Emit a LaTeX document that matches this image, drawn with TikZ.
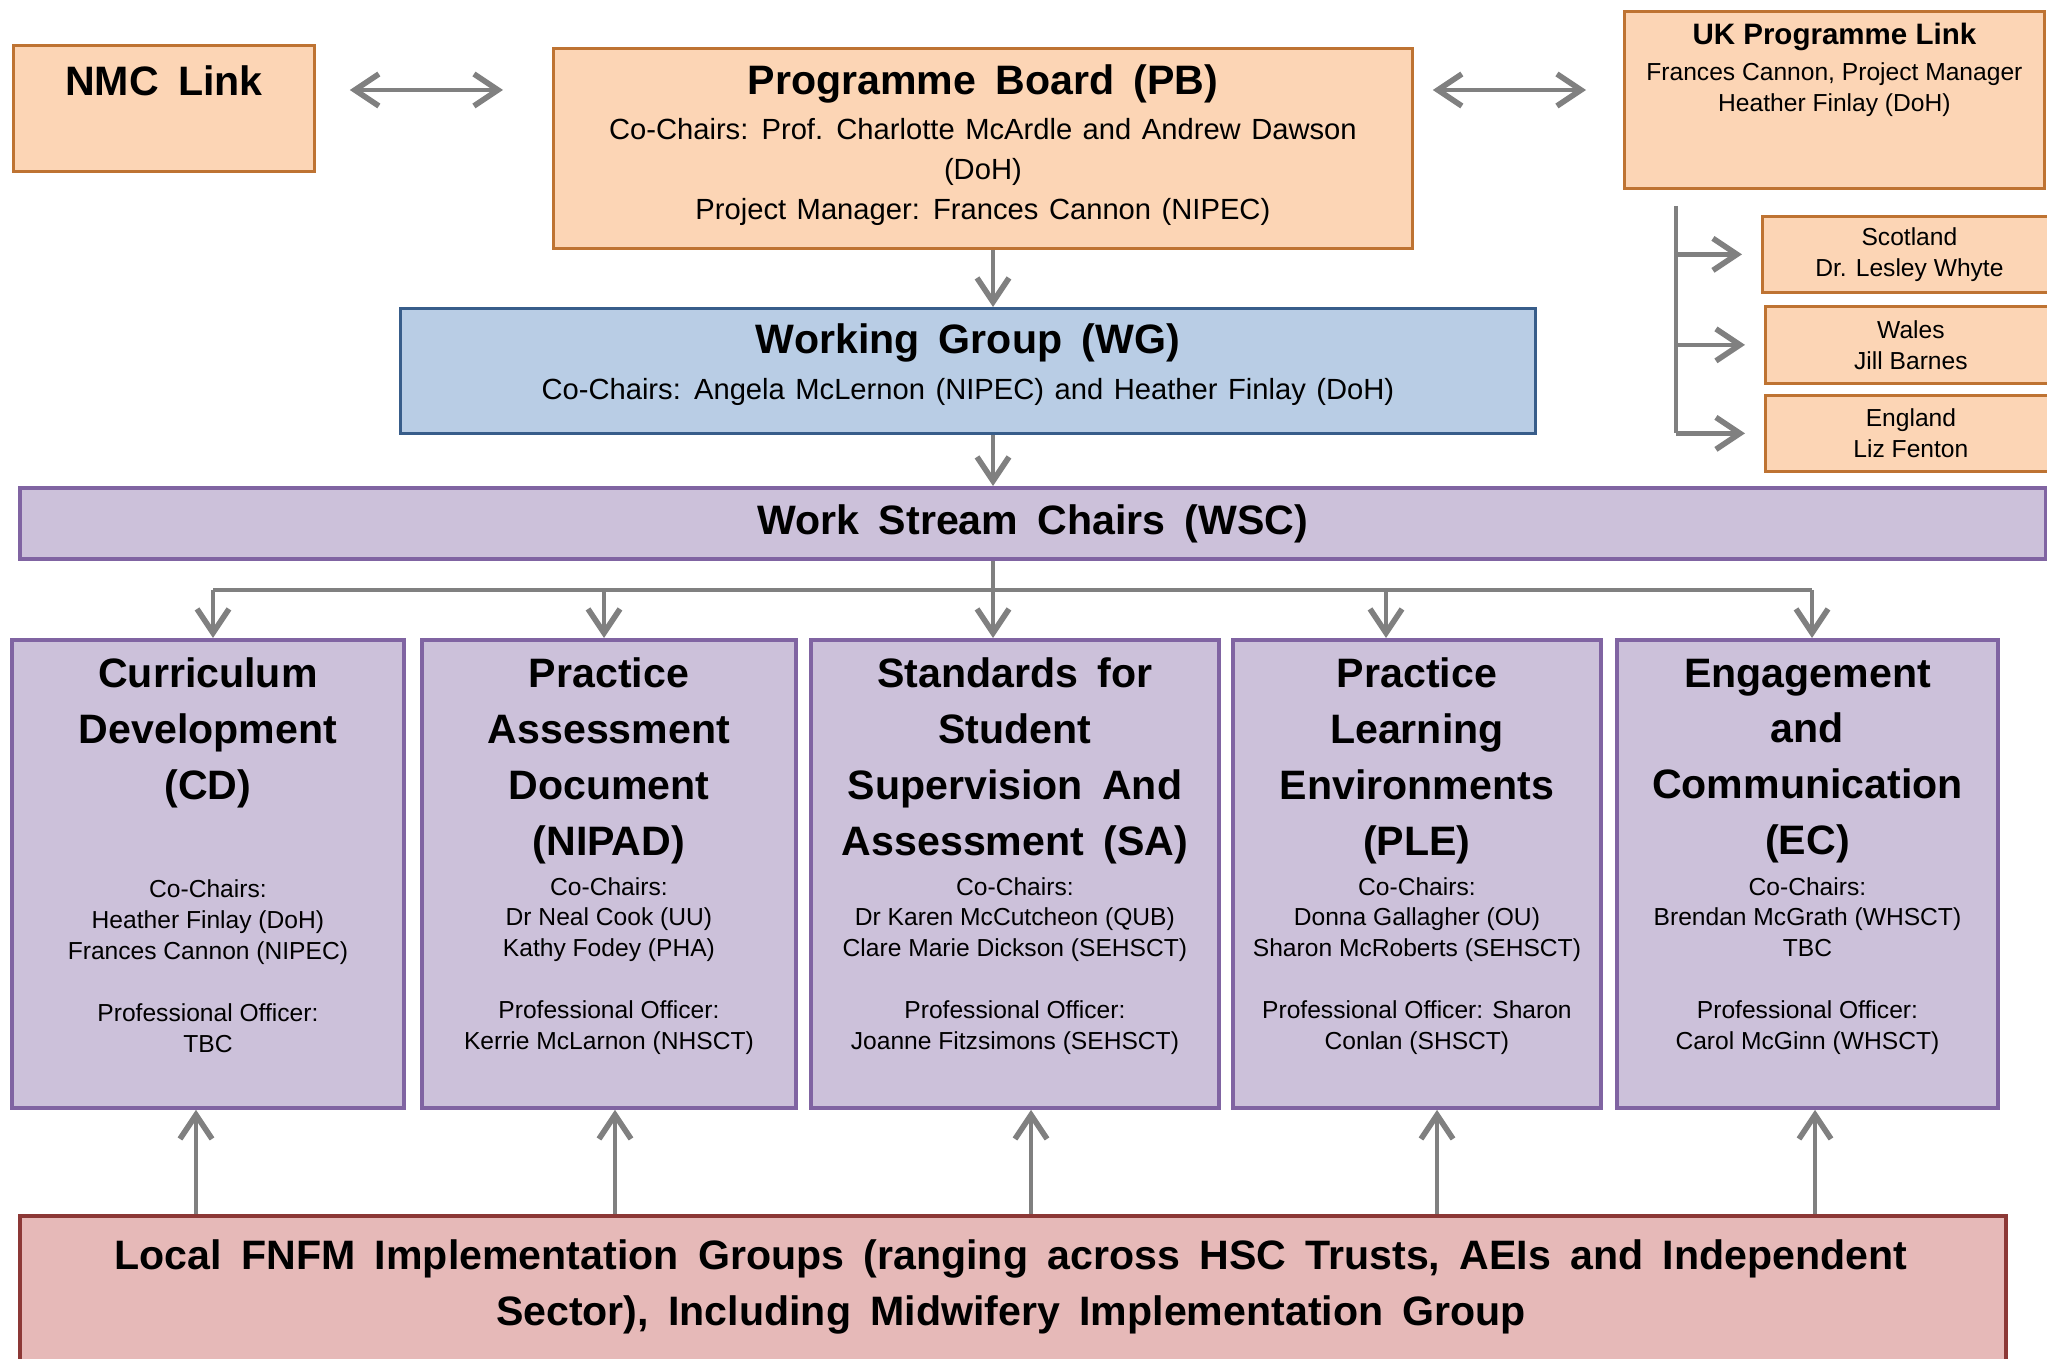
\documentclass[tikz,border=0pt]{standalone}
\usepackage{fontspec}
\setmainfont{Liberation Sans}
\usetikzlibrary{arrows.meta}

\definecolor{pbfill}{RGB}{252,213,181}
\definecolor{pbline}{RGB}{190,115,50}
\definecolor{wgfill}{RGB}{185,205,229}
\definecolor{wgline}{RGB}{56,93,138}
\definecolor{wsfill}{RGB}{204,193,218}
\definecolor{wsline}{RGB}{128,100,162}
\definecolor{lofill}{RGB}{230,185,184}
\definecolor{loline}{RGB}{140,56,54}
\definecolor{arrowgray}{RGB}{128,128,128}

\tikzset{
  linkbox/.style={draw=pbline, fill=pbfill, line width=0.8pt, inner sep=0pt, anchor=north west},
  groupbox/.style={draw=wgline, fill=wgfill, line width=0.8pt, inner sep=0pt, anchor=north west},
  streambox/.style={draw=wsline, fill=wsfill, line width=1.1pt, inner sep=0pt, anchor=north west},
  localbox/.style={draw=loline, fill=lofill, line width=1.1pt, inner sep=0pt, anchor=north west},
  big/.style={font={\bfseries\fontsize{11.7}{15.9}\selectfont\spaceskip=0.47em\relax}, align=center, inner sep=0pt},
  mid/.style={font={\fontsize{8.3}{11.4}\selectfont\spaceskip=0.36em\relax}, align=center, inner sep=0pt},
  small/.style={font=\fontsize{7}{8.8}\selectfont, align=center, inner sep=0pt},
  link/.style={draw=arrowgray, line width=1.3pt},
  rise/.style={draw=arrowgray, line width=1pt}
}

\begin{document}
\begin{tikzpicture}[x=0.1mm, y=-0.1mm, >={Straight Barb[length=2.4mm,width=3.2mm,line width=1.6pt]}]
  \useasboundingbox (0,0) rectangle (2047,1359);

  % top row
  \node[linkbox, minimum width=30.1mm, minimum height=12.6mm] (nmc) at (12,44) {};
  \node[linkbox, minimum width=85.9mm, minimum height=20mm] (pb) at (552,47) {};
  \node[linkbox, minimum width=42mm, minimum height=17.7mm] (uk) at (1623,10) {};
  \node[big] (nmct) at (nmc |- 0,81) {NMC Link};
  \node[big] (pbt) at (pb |- 0,84) {Programme Board (PB)};
  \node[mid] (pbi) at (pb |- 0,172) {Co-Chairs: Prof. Charlotte McArdle and Andrew Dawson\\(DoH)\\Project Manager: Frances Cannon (NIPEC)};
  \node[big, font=\bfseries\fontsize{8.4}{10}\selectfont] (ukt) at (uk |- 0,37) {UK Programme Link};
  \node[small] (uki) at (uk |- 0,90) {Frances Cannon, Project Manager\\Heather Finlay (DoH)};

  \node[linkbox, small, minimum width=29.4mm, minimum height=7.6mm] (scot) at (1761,215) {Scotland\\Dr. Lesley Whyte};
  \node[linkbox, small, minimum width=29.1mm, minimum height=7.7mm] (wales) at (1764,305) {Wales\\Jill Barnes};
  \node[linkbox, small, minimum width=29.1mm, minimum height=7.6mm] (eng) at (1764,394) {England\\Liz Fenton};

  \draw[link, <->, shorten <=3.4mm, shorten >=4.9mm] (nmc.east |- 0,90) -- (pb.west |- 0,90);
  \draw[link, <->, shorten <=1.9mm, shorten >=3.7mm] (pb.east |- 0,90) -- (uk.west |- 0,90);

  \coordinate (spine) at (1676,206);
  \draw[link] (spine) -- (spine |- eng.west);
  \foreach \c in {scot,wales,eng}
    \draw[link, ->, shorten >=1.9mm] (spine |- \c.west) -- (\c.west);

  % working group and chairs
  \node[groupbox, minimum width=113.5mm, minimum height=12.5mm] (wg) at (399,307) {};
  \node[big] (wgt) at (wg |- 0,343) {Working Group (WG)};
  \node[mid] (wgi) at (wg |- 0,392) {Co-Chairs: Angela McLernon (NIPEC) and Heather Finlay (DoH)};
  \node[streambox, big, minimum width=202.6mm, minimum height=7.1mm] (wsc) at (18,486) {Work Stream Chairs (WSC)};

  \coordinate (trunk) at (993,0);
  \draw[link, ->] (pb.south -| trunk) -- (wg.north -| trunk);
  \draw[link, ->] (wg.south -| trunk) -- (wsc.north -| trunk);
  \coordinate (forkL) at (213,590);
  \coordinate (forkR) at (1812,590);
  \draw[link] (wsc.south -| trunk) -- (trunk |- forkL);
  \draw[link] (forkL) -- (forkR);

  % work streams
  \node[streambox, minimum width=39.2mm, minimum height=46.8mm] (cd) at (10,638) {};
  \node[streambox, minimum width=37.4mm, minimum height=46.8mm] (pad) at (420,638) {};
  \node[streambox, minimum width=40.8mm, minimum height=46.8mm] (sa) at (809,638) {};
  \node[streambox, minimum width=36.8mm, minimum height=46.8mm] (ple) at (1231,638) {};
  \node[streambox, minimum width=38.1mm, minimum height=46.8mm] (ec) at (1615,638) {};

  \node[big] (cdt) at (cd |- 0,733) {Curriculum\\Development\\(CD)};
  \node[big] (padt) at (pad |- 0,761) {Practice\\Assessment\\Document\\(NIPAD)};
  \node[big] (sat) at (sa |- 0,761) {Standards for\\Student\\Supervision And\\Assessment (SA)};
  \node[big] (plet) at (ple |- 0,761) {Practice\\Learning\\Environments\\(PLE)};
  \node[big] (ect) at (ec |- 0,761) {Engagement\\and\\Communication\\(EC)};

  \node[small] (cdi) at (cd |- 0,966) {Co-Chairs:\\Heather Finlay (DoH)\\Frances Cannon (NIPEC)\\[8.8pt]Professional Officer:\\TBC};
  \node[small] (padi) at (pad |- 0,966) {Co-Chairs:\\Dr Neal Cook (UU)\\Kathy Fodey (PHA)\\[8.8pt]Professional Officer:\\Kerrie McLarnon (NHSCT)};
  \node[small] (sai) at (sa |- 0,966) {Co-Chairs:\\Dr Karen McCutcheon (QUB)\\Clare Marie Dickson (SEHSCT)\\[8.8pt]Professional Officer:\\Joanne Fitzsimons (SEHSCT)};
  \node[small] (plei) at (ple |- 0,966) {Co-Chairs:\\Donna Gallagher (OU)\\Sharon McRoberts (SEHSCT)\\[8.8pt]Professional Officer: Sharon\\Conlan (SHSCT)};
  \node[small] (eci) at (ec |- 0,966) {Co-Chairs:\\Brendan McGrath (WHSCT)\\TBC\\[8.8pt]Professional Officer:\\Carol McGinn (WHSCT)};

  % local groups
  \node[localbox, minimum width=198.6mm, minimum height=16mm] (local) at (18,1214) {};
  \node[big] (localt) at (1011,1287) {Local FNFM Implementation Groups (ranging across HSC Trusts, AEIs and Independent\\Sector), Including Midwifery Implementation Group};

  \foreach \b/\d/\u in {cd/213/196, pad/604/615, sa/993/1031, ple/1386/1437, ec/1812/1815}{
    \coordinate (drop) at (\d,0);
    \coordinate (lift) at (\u,0);
    \draw[link, ->] (forkL -| drop) -- (\b.north -| drop);
    \draw[rise, ->] (local.north -| lift) -- (\b.south -| lift);
  }
\end{tikzpicture}
\end{document}
